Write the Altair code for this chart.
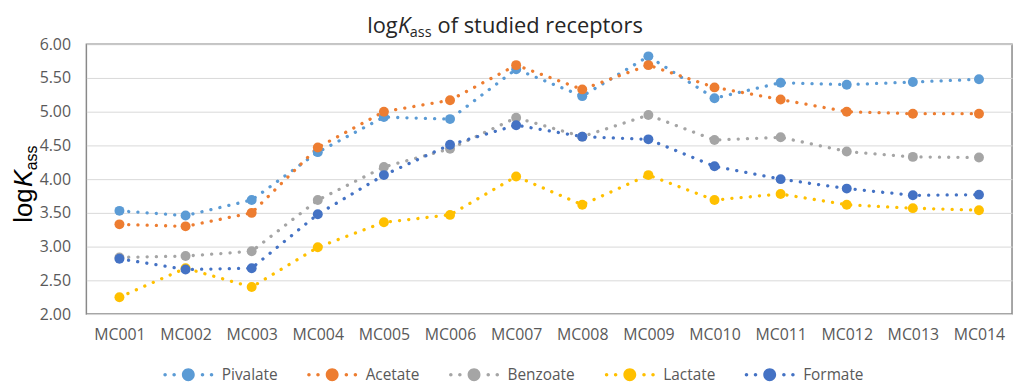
import altair as alt
import pandas as pd

categories = ["MC001", "MC002", "MC003", "MC004", "MC005", "MC006", "MC007",
              "MC008", "MC009", "MC010", "MC011", "MC012", "MC013", "MC014"]
series = ["Pivalate", "Acetate", "Benzoate", "Lactate", "Formate"]
colors = ["#5B9BD5", "#ED7D31", "#A5A5A5", "#FFC000", "#4472C4"]

pivalate = [3.53, 3.46, 3.69, 4.40, 4.92, 4.89, 5.63, 5.23, 5.82, 5.20, 5.43, 5.40, 5.44, 5.48]
acetate  = [3.33, 3.30, 3.50, 4.47, 5.00, 5.17, 5.69, 5.33, 5.69, 5.36, 5.18, 5.00, 4.97, 4.97]
benzoate = [2.84, 2.86, 2.93, 3.69, 4.18, 4.45, 4.91, 4.63, 4.95, 4.58, 4.62, 4.41, 4.33, 4.32]
lactate  = [2.25, 2.68, 2.40, 2.99, 3.36, 3.47, 4.04, 3.62, 4.06, 3.69, 3.78, 3.62, 3.57, 3.54]
formate  = [2.82, 2.66, 2.68, 3.48, 4.06, 4.51, 4.80, 4.63, 4.59, 4.19, 4.00, 3.86, 3.76, 3.77]
y_ticks = [2.0, 2.5, 3.0, 3.5, 4.0, 4.5, 5.0, 5.5, 6.0]

values = [pivalate, acetate, benzoate, lactate, formate]
rows = []
for si, (name, vals) in enumerate(zip(series, values)):
    for cat, v in zip(categories, vals):
        rows.append({"receptor": cat, "anion": name, "logK": v, "order": si})
df = pd.DataFrame(rows)

FONT = "Open Sans"
YFONT = "Liberation Sans"
GREY = "#595959"
K = 0.5523


def circ(cx, r):
    k = K * r
    return (f"M{cx + r} 0"
            f"C{cx + r} {k} {cx + k} {r} {cx} {r}"
            f"C{cx - k} {r} {cx - r} {k} {cx - r} 0"
            f"C{cx - r} {-k} {cx - k} {-r} {cx} {-r}"
            f"C{cx + k} {-r} {cx + r} {-k} {cx + r} 0Z")


legend_path = "".join([circ(-3.6, 0.27), circ(-2.2, 0.27), circ(0, 1.0),
                       circ(2.2, 0.27), circ(3.6, 0.27)])

x_enc = alt.X("receptor:N", sort=categories,
              scale=alt.Scale(type="point", padding=0.5),
              axis=alt.Axis(title=None, labelAngle=0, labelFont=FONT, labelFontSize=16,
                            labelColor=GREY, labelPadding=13, ticks=False, domain=False,
                            grid=False))
y_enc = alt.Y("logK:Q", scale=alt.Scale(domain=[2, 6], nice=False, zero=False),
              axis=alt.Axis(title=None, values=y_ticks, format=".2f", labelFont=FONT,
                            labelFontSize=16, labelColor=GREY, labelPadding=16,
                            ticks=False, domain=False, gridColor="#D9D9D9",
                            gridWidth=1))

base = alt.Chart(df)

lines = base.mark_line(strokeDash=[0.1, 9.2], strokeCap="round", strokeWidth=3.3).encode(
    x=x_enc, y=y_enc,
    color=alt.Color("anion:N", scale=alt.Scale(domain=series, range=colors), legend=None),
    order=alt.Order("order:Q"),
)

points = base.mark_circle(size=100, opacity=1).encode(
    x=x_enc, y=y_enc,
    color=alt.Color("anion:N", scale=alt.Scale(domain=series, range=colors),
                    legend=alt.Legend(title=None, orient="none", direction="horizontal",
                                      legendX=95, legendY=325,
                                      symbolType=legend_path, symbolSize=169,
                                      symbolStrokeWidth=0, symbolOpacity=1,
                                      labelFont=FONT, labelFontSize=15.5, labelColor=GREY,
                                      labelOffset=26, columnPadding=29)),
    order=alt.Order("order:Q"),
)

one = pd.DataFrame({"k": [0]})


def txt(text, x, y, size, angle=0, italic=False, color="#262626", font=FONT):
    kw = dict(text=text, align="left", baseline="alphabetic", font=font,
              fontSize=size, color=color)
    if angle:
        kw["angle"] = angle
    if italic:
        kw["fontStyle"] = "italic"
    return alt.Chart(one).mark_text(**kw).encode(x=alt.value(x), y=alt.value(y))


title_parts = [
    txt("log", 283, -11.5, 22),
    txt("K", 314, -11.5, 22, italic=True),
    txt("ass", 326, -7, 14.5),
    txt("of studied receptors", 354, -11.5, 22),
]
ytitle_parts = [
    txt("log", -55, 180, 26, angle=270, color="#000000", font=YFONT),
    txt("K", -55, 144, 26, angle=270, italic=True, color="#000000", font=YFONT),
    txt("ass", -50, 127, 16, angle=270, color="#000000", font=YFONT),
]

chart = alt.layer(lines, points, *title_parts, *ytitle_parts).resolve_scale(
    color="independent"
).properties(
    width=933, height=272,
    autosize=alt.AutoSizeParams(type="none"),
    padding={"left": 79, "top": 35, "right": 4, "bottom": 71},
).configure_view(stroke="#898989", strokeWidth=1.5)

chart.save("out.html", embed_options={"renderer": "svg", "actions": False})
